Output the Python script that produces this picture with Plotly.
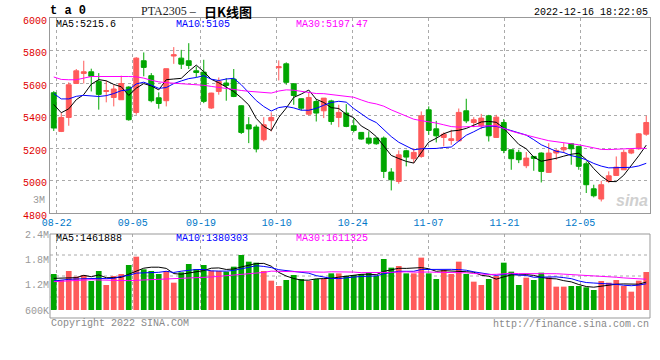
import plotly.graph_objects as go
import pandas as pd

# ---------------- data ----------------
holidays = ["2022-09-12", "2022-10-03", "2022-10-04", "2022-10-05", "2022-10-06", "2022-10-07"]
dates = [d for d in pd.bdate_range("2022-08-19", "2022-12-16") if d.strftime("%Y-%m-%d") not in holidays]
date_labels = [d.strftime("%m-%d") for d in dates]

open_ = [5540, 5302, 5388, 5597, 5659, 5669, 5610, 5548, 5511, 5497,
         5575, 5419, 5737, 5645, 5509, 5491, 5766, 5753, 5737, 5675,
         5667, 5446, 5548, 5600, 5624, 5460, 5343, 5329, 5251, 5368,
         5694, 5718, 5595, 5503, 5408, 5486, 5429, 5490, 5388, 5415,
         5337, 5296, 5261, 5261, 5261, 5052, 4994, 5183, 5134, 5148,
         5435, 5318, 5265, 5246, 5244, 5429, 5357, 5337, 5398, 5265,
         5357, 5189, 5173, 5091, 5148, 5169, 5050, 5169, 5189, 5226,
         5210, 5103, 4949, 4886, 4994, 5031, 5066, 5169, 5195, 5285]
high = [5550, 5415, 5604, 5686, 5737, 5688, 5661, 5614, 5589, 5645,
        5580, 5759, 5788, 5661, 5542, 5688, 5821, 5804, 5845, 5702,
        5743, 5540, 5634, 5630, 5686, 5462, 5390, 5343, 5390, 5419,
        5739, 5727, 5600, 5505, 5538, 5501, 5507, 5497, 5466, 5470,
        5384, 5298, 5302, 5263, 5271, 5076, 5185, 5189, 5199, 5425,
        5456, 5367, 5296, 5312, 5443, 5503, 5390, 5410, 5404, 5404,
        5378, 5189, 5189, 5175, 5150, 5173, 5230, 5193, 5230, 5230,
        5214, 5117, 4974, 4998, 5056, 5148, 5189, 5193, 5292, 5398]
low = [5305, 5298, 5337, 5597, 5597, 5548, 5436, 5481, 5456, 5497,
       5368, 5405, 5641, 5481, 5442, 5456, 5718, 5686, 5686, 5636,
       5476, 5440, 5528, 5491, 5513, 5286, 5230, 5173, 5241, 5302,
       5616, 5589, 5466, 5431, 5400, 5363, 5384, 5343, 5328, 5328,
       5296, 5251, 5220, 5220, 5015, 4939, 4980, 5087, 5107, 5140,
       5281, 5234, 5210, 5220, 5240, 5353, 5328, 5316, 5240, 5265,
       5168, 5066, 5107, 5076, 5060, 4988, 5046, 5128, 5169, 5097,
       5066, 4923, 4896, 4871, 4984, 5031, 5066, 5162, 5189, 5275]
close = [5323, 5388, 5589, 5675, 5669, 5641, 5530, 5553, 5563, 5597,
         5374, 5753, 5696, 5491, 5474, 5688, 5774, 5716, 5708, 5665,
         5487, 5538, 5610, 5585, 5517, 5296, 5317, 5194, 5343, 5388,
         5700, 5604, 5523, 5445, 5511, 5415, 5507, 5363, 5419, 5333,
         5308, 5255, 5230, 5226, 5056, 5005, 5158, 5144, 5173, 5398,
         5308, 5275, 5285, 5257, 5419, 5367, 5374, 5384, 5275, 5390,
         5185, 5134, 5128, 5138, 5136, 5056, 5169, 5185, 5203, 5195,
         5087, 4974, 4906, 4974, 5029, 5082, 5173, 5189, 5287, 5357]
volume = [1453000, 1311000, 1524000, 1390000, 1429000, 1287000, 1524000, 1192000, 1405000, 1453000,
          1666000, 1863000, 1563000, 1524000, 1453000, 1524000, 1247000, 1492000, 1690000, 1571000,
          1666000, 1532000, 1524000, 1508000, 1626000, 1903000, 1745000, 1721000, 1524000, 1295000,
          1168000, 1311000, 1429000, 1334000, 1287000, 1334000, 1334000, 1468000, 1468000, 1405000,
          1429000, 1453000, 1484000, 1405000, 1808000, 1603000, 1642000, 1468000, 1468000, 1840000,
          1468000, 1334000, 1547000, 1453000, 1745000, 1453000, 1271000, 1192000, 1334000, 1405000,
          1721000, 1508000, 1192000, 1366000, 1311000, 1484000, 1374000, 1153000, 1153000, 1168000,
          1168000, 1137000, 1074000, 1287000, 1247000, 1311000, 1168000, 1034000, 1295000, 1500000]

# moving-average values at the start of the window (prior data not shown)
ma5_head = [5468, 5417, 5441, 5497]
ma10_head = [5535, 5502, 5502, 5518, 5524, 5522, 5517, 5522, 5535]
ma30_head = [5637, 5622, 5620, 5620, 5630, 5640, 5640, 5640, 5644, 5643,
             5640, 5638, 5630, 5617, 5607, 5602, 5599, 5595, 5592, 5590,
             5586, 5579, 5572, 5567, 5562, 5554, 5549, 5545, 5540]
vma5_head = [1350000, 1350000, 1358000, 1366000]
vma10_head = [1287000, 1311000, 1326000, 1334000, 1342000, 1350000, 1350000, 1342000, 1350000]
vma30_head = [1271000, 1279000, 1287000, 1303000, 1318000, 1318000, 1311000, 1303000, 1295000, 1295000,
              1295000, 1303000, 1311000, 1318000, 1326000, 1334000, 1342000, 1342000, 1350000, 1350000,
              1358000, 1382000, 1397000, 1413000, 1421000, 1429000, 1445000, 1465000, 1490000]

tick_labels = ["08-22", "09-05", "09-19", "10-10", "10-24", "11-07", "11-21", "12-05"]
price_ticks = [4800, 5000, 5200, 5400, 5600, 5800, 6000]
vol_ticks = [600000, 1200000, 1800000, 2400000]
vol_tick_text = ["600K", "1.2M", "1.8M", "2.4M"]

# legend texts as printed on the chart
price_ma_text = ["MA5:5215.6", "MA10:5105", "MA30:5197.47"]
vol_ma_text = ["MA5:1461888", "MA10:1380303", "MA30:1611325"]

title_code = "PTA2305 –"
title_cn = "日K线图"
timestamp = "2022-12-16 18:22:05"

# ---------------- derived ----------------
x = list(range(len(dates)))


def moving_avg(values, n, head):
    s = pd.Series(values, dtype=float).rolling(n).mean().tolist()
    return head + s[len(head):]


ma5 = moving_avg(close, 5, ma5_head)
ma10 = moving_avg(close, 10, ma10_head)
ma30 = moving_avg(close, 30, ma30_head)
vma5 = moving_avg(volume, 5, vma5_head)
vma10 = moving_avg(volume, 10, vma10_head)
vma30 = moving_avg(volume, 30, vma30_head)

RED = "#FF5A5A"
GREEN = "#00A600"
vol_colors = [RED if c >= o else GREEN for o, c in zip(open_, close)]

tick_idx = [date_labels.index(t) for t in tick_labels]
tick_pos = [i * 1.0115 - 0.6 for i in tick_idx]

MONO = "Liberation Mono"
GRID = "#AAAAAA"
BORDER = "#999999"
MA_COLORS = ["#000000", "#0000FF", "#FF00FF"]

fig = go.Figure()
fig.add_trace(go.Candlestick(
    x=x, open=open_, high=high, low=low, close=close,
    increasing=dict(line=dict(color=RED, width=1), fillcolor=RED),
    decreasing=dict(line=dict(color=GREEN, width=1), fillcolor=GREEN),
    xaxis="x", yaxis="y", showlegend=False, hoverinfo="skip"))
for vals, col in zip([ma5, ma10, ma30], MA_COLORS):
    fig.add_trace(go.Scatter(x=x, y=vals, mode="lines", line=dict(color=col, width=1),
                             xaxis="x", yaxis="y", showlegend=False, hoverinfo="skip"))

fig.add_trace(go.Bar(x=x, y=volume, marker=dict(color=vol_colors, line=dict(width=0)),
                     width=0.76, xaxis="x2", yaxis="y2", showlegend=False, hoverinfo="skip"))
for vals, col in zip([vma5, vma10, vma30], MA_COLORS):
    fig.add_trace(go.Scatter(x=x, y=vals, mode="lines", line=dict(color=col, width=1),
                             xaxis="x2", yaxis="y2", showlegend=False, hoverinfo="skip"))

H = 292.0  # plot area height in px (y=18 .. y=310)


def py(ypx):
    return (310 - ypx) / H


def px(xpx):
    return (xpx - 50) / 600.0


common_x = dict(range=[-0.5, 79.5], tickvals=tick_pos, showgrid=True, gridcolor=GRID,
                griddash="dot", gridwidth=1, zeroline=False, fixedrange=True, automargin=False)
fig.update_layout(
    width=660, height=360,
    margin=dict(l=50, r=10, t=18, b=50, autoexpand=False),
    paper_bgcolor="white", plot_bgcolor="white",
    boxgap=0.35, boxgroupgap=0, bargap=0.24,
    xaxis=dict(domain=[0, 1], anchor="y", ticktext=tick_labels, showticklabels=True,
               tickfont=dict(family=MONO, size=10, color="#0078C8"), ticks="",
               showline=True, mirror=True, linecolor=BORDER, linewidth=1,
               rangeslider=dict(visible=False), **common_x),
    xaxis2=dict(domain=[0, 1], anchor="y2", matches="x", showticklabels=False, ticks="",
                showline=False, **common_x),
    yaxis=dict(domain=[py(213), 1], range=[4800, 6000], tickvals=price_ticks,
               tickfont=dict(family=MONO, size=10, color="#E00000"), ticks="",
               showgrid=True, gridcolor=GRID, griddash="dot", zeroline=False,
               showline=True, mirror=True, linecolor=BORDER, linewidth=1,
               ticklabelshift=2, fixedrange=True, automargin=False),
    yaxis2=dict(domain=[0, py(234)], range=[600000, 2400000], tickvals=vol_ticks,
                ticktext=vol_tick_text, tickfont=dict(family=MONO, size=10, color="#999999"),
                ticks="", showgrid=False, zeroline=False, showline=False, fixedrange=True,
                automargin=False),
)

shapes = [dict(type="rect", xref="paper", yref="paper", x0=0, x1=1, y0=py(318), y1=py(234),
               line=dict(color=BORDER, width=1), fillcolor="rgba(0,0,0,0)", layer="above")]
for gy in [255, 276, 297]:
    shapes.append(dict(type="line", xref="paper", yref="paper", x0=0, x1=1, y0=py(gy), y1=py(gy),
                       line=dict(color=GRID, width=1, dash="dot"), layer="below"))
fig.update_layout(shapes=shapes)

ann = []


def add_text(text, xpx, ypx, size=10, color="#000000", anchor="left", family=MONO, **kw):
    ann.append(dict(text=text, x=px(xpx), y=py(ypx), xref="paper", yref="paper",
                    xanchor=anchor, yanchor="middle", showarrow=False,
                    font=dict(family=family, size=size, color=color), **kw))


add_text("<b>t a 0</b>", 48, 11, size=12)
add_text(title_code, 139, 11, size=12, family="Liberation Serif", color="#222222")
add_text("<b>" + title_cn + "</b>", 202, 11, size=13, family="Noto Sans CJK SC")
add_text(timestamp, 650, 12.5, anchor="right")
for txt, xx, col in zip(price_ma_text, [54, 174, 294], MA_COLORS):
    add_text(txt, xx, 24.5, color=col)
for txt, xx, col in zip(vol_ma_text, [54, 174, 294], MA_COLORS):
    add_text(txt, xx, 238.5, color=col)
add_text("3M", 47, 200.5, color="#999999", anchor="right")
add_text("Copyright 2022 SINA.COM", 49, 323.5, color="#888888")
add_text("http://finance.sina.com.cn", 651, 324, color="#888888", anchor="right")
add_text("<b><i>sina</i></b>", 650, 200, size=16, color="#D0D0D0", anchor="right",
         family="Liberation Sans")
fig.update_layout(annotations=ann)

fig.write_html("out.html", config={"displayModeBar": False, "staticPlot": True},
               post_script="document.body.style.margin='0';")
